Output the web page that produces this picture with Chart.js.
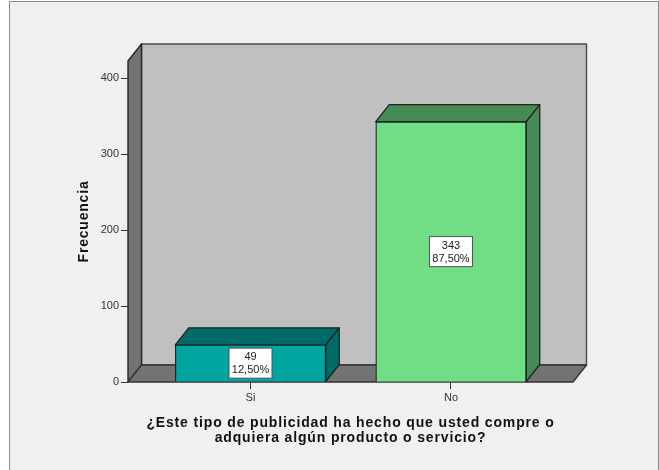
<!DOCTYPE html>
<html><head><meta charset="utf-8">
<style>
html,body{margin:0;padding:0;background:#fff;overflow:hidden}
#frame{position:absolute;left:9px;top:1px;width:648px;height:480px;background:#f0f0f0;border:1px solid #8c8c8c}
canvas{position:absolute;left:0;top:0}
</style>
<script src="https://cdn.jsdelivr.net/npm/chart.js@4"></script>
</head><body><div id="frame"></div><canvas id="c" width="659" height="470"></canvas>
<script>
const categories = ['Si', 'No'];
const positions = [0, 1];
const counts = [49, 343];
const percents = ['12,50%', '87,50%'];
const frontColors = ['#00a5a0', '#71dd85'];
const topColors = ['#006b68', '#468a55'];
const yTicksStep = 100;
const yTitle = 'Frecuencia';
const xTitle = ['¿Este tipo de publicidad ha hecho que usted compre o', 'adquiera algún producto o servicio?'];

const depthX = 13.5, depthY = 17;

function poly(ctx, pts, fill, stroke, lw) {
  ctx.beginPath();
  pts.forEach((p, i) => i ? ctx.lineTo(p[0], p[1]) : ctx.moveTo(p[0], p[1]));
  ctx.closePath();
  ctx.fillStyle = fill; ctx.fill();
  ctx.strokeStyle = stroke; ctx.lineWidth = lw; ctx.lineJoin = 'round'; ctx.stroke();
}

const box3d = {
  id: 'box3d',
  beforeDatasetsDraw(chart) {
    const ctx = chart.ctx, a = chart.chartArea;
    const L = a.left, R = a.right, T = a.top, B = a.bottom;
    ctx.save();
    poly(ctx, [[L + depthX, T - depthY], [R + depthX, T - depthY], [R + depthX, B - depthY], [L + depthX, B - depthY]], '#c0c0c0', '#4a4a4a', 1.4);
    poly(ctx, [[L, B], [L, T], [L + depthX, T - depthY], [L + depthX, B - depthY]], '#737373', '#262626', 1.4);
    poly(ctx, [[L, B], [R, B], [R + depthX, B - depthY], [L + depthX, B - depthY]], '#737373', '#333333', 1.4);
    chart.getDatasetMeta(0).data.forEach((bar, i) => {
      const l = bar.x - bar.width / 2, r = bar.x + bar.width / 2, t = bar.y, b = bar.base;
      poly(ctx, [[l, t], [r, t], [r + depthX, t - depthY], [l + depthX, t - depthY]], topColors[i], '#1c2622', 1.3);
      poly(ctx, [[r, t], [r, b], [r + depthX, b - depthY], [r + depthX, t - depthY]], topColors[i], '#1c2622', 1.3);
    });
    ctx.restore();
  },
  afterDatasetsDraw(chart) {
    const ctx = chart.ctx;
    ctx.save();
    ctx.font = '11px "Liberation Sans"';
    ctx.textAlign = 'center'; ctx.textBaseline = 'middle';
    chart.getDatasetMeta(0).data.forEach((bar, i) => {
      const cx = bar.x, cy = (bar.y + bar.base) / 2;
      ctx.fillStyle = '#fff'; ctx.strokeStyle = '#555'; ctx.lineWidth = 1;
      ctx.fillRect(cx - 21.5, cy - 15, 43, 30);
      ctx.strokeRect(cx - 21.5, cy - 15, 43, 30);
      ctx.fillStyle = '#222';
      ctx.fillText(String(counts[i]), cx, cy - 6);
      ctx.fillText(percents[i], cx, cy + 7);
    });
    ctx.restore();
  }
};

function spacedTitle(scale, px) {
  if (scale._spaced) return;
  scale._spaced = true;
  const orig = scale.drawTitle;
  scale.drawTitle = function () {
    const ctx = this.ctx;
    ctx.letterSpacing = px;
    orig.apply(this, arguments);
    ctx.letterSpacing = '0px';
  };
}

new Chart(document.getElementById('c'), {
  type: 'bar',
  data: {
    datasets: [{
      data: positions.map((p, i) => ({ x: p, y: counts[i] })),
      backgroundColor: frontColors,
      borderColor: '#1c2622',
      borderWidth: 1.3,
      barThickness: 150.5
    }]
  },
  plugins: [box3d],
  options: {
    responsive: false,
    animation: false,
    layout: { padding: { left: 76, right: 86, top: 61, bottom: 24 } },
    plugins: { legend: { display: false }, tooltip: { enabled: false } },
    scales: {
      x: {
        type: 'linear',
        offset: false,
        min: -0.611, max: 1.6085,
        afterBuildTicks(s) { s.ticks = positions.map(v => ({ value: v })); },
        afterFit(s) { s.height = 64; spacedTitle(s, '0.85px'); },
        grid: { offset: false, drawOnChartArea: false, drawTicks: true, tickLength: 7, color: '#333', lineWidth: 1 },
        border: { display: false },
        ticks: { autoSkip: false, maxRotation: 0, padding: 2, color: '#333',
          font: { family: '"Liberation Sans"', size: 11 },
          callback: v => categories[positions.indexOf(v)] ?? '' },
        title: { display: true, text: xTitle, color: '#111', padding: { top: 6, bottom: 0 },
          font: { family: '"Liberation Sans"', size: 14, weight: 'bold', lineHeight: 1.07 } }
      },
      y: {
        min: 0, max: 423,
        afterFit(s) { s.width = 52; spacedTitle(s, '0.8px'); },
        grid: { drawOnChartArea: false, drawTicks: true, tickLength: 7, color: '#333', lineWidth: 1 },
        border: { display: false },
        ticks: { stepSize: yTicksStep, includeBounds: false, padding: 2, color: '#333',
          font: { family: '"Liberation Sans"', size: 11 } },
        title: { display: true, text: yTitle, color: '#111', padding: 0,
          font: { family: '"Liberation Sans"', size: 14, weight: 'bold' } }
      }
    }
  }
});
</script></body></html>
